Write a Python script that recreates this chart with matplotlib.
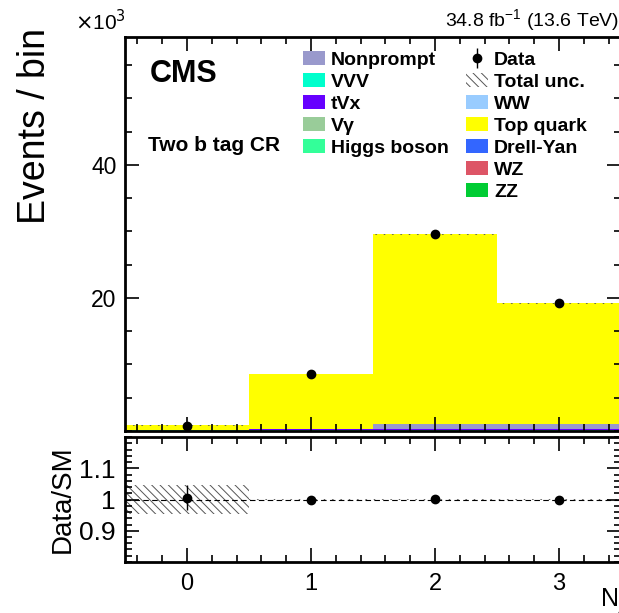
import numpy as np
import matplotlib
matplotlib.use('Agg')
import matplotlib.pyplot as plt
from matplotlib.patches import Patch
from matplotlib.ticker import MultipleLocator, FixedLocator

plt.rcParams['font.family'] = ['Liberation Sans', 'DejaVu Sans']
plt.rcParams['hatch.linewidth'] = 0.7

# 数据 (单位: 10^3 事件)
bins = [0, 1, 2, 3]
edges = [-0.5, 0.5, 1.5, 2.5, 3.5]
zz = [0.01, 0.01, 0.01, 0.01]
wz = [0.01, 0.01, 0.01, 0.01]
drell_yan = [0.01, 0.01, 0.01, 0.01]
ww = [0.01, 0.01, 0.01, 0.01]
higgs = [0.12, 0.15, 0.15, 0.15]
vgamma = [0.01, 0.01, 0.01, 0.01]
tvx = [0.02, 0.03, 0.04, 0.03]
vvv = [0.01, 0.01, 0.01, 0.01]
nonprompt = [0.02, 0.05, 0.80, 0.75]
top_quark = [0.62, 8.30, 28.50, 18.20]
data = [0.80, 8.57, 29.65, 19.25]
unc_ratio = [0.045, 0.003, 0.003, 0.003]
data_ratio = [1.005, 0.998, 1.002, 1.000]
data_ratio_err = [0.04, 0.011, 0.006, 0.007]

stack = [
    ('ZZ', zz, '#00CC33'),
    ('WZ', wz, '#DD5566'),
    ('Drell-Yan', drell_yan, '#3366FF'),
    ('WW', ww, '#99CCFF'),
    ('Higgs boson', higgs, '#33FF99'),
    ('Vγ', vgamma, '#99CC99'),
    ('tVx', tvx, '#6600FF'),
    ('VVV', vvv, '#00FFCC'),
    ('Nonprompt', nonprompt, '#9999CC'),
    ('Top quark', top_quark, '#FFFF00'),
]
colors = {name: c for name, _, c in stack}

fig = plt.figure(figsize=(6.19, 6.13), dpi=100)
ax = fig.add_axes([0.2019, 0.2969, 0.8013, 0.6427])
axr = fig.add_axes([0.2019, 0.0832, 0.8013, 0.2039])

# 堆叠直方图
bottom = np.zeros(len(bins))
for name, vals, c in stack:
    vals = np.array(vals)
    ax.bar(bins, vals, width=1.0, bottom=bottom, color=c, linewidth=0)
    bottom += vals
total = bottom

# 总不确定度
unc_abs = total * np.array(unc_ratio)
ax.fill_between(edges, np.append(total - unc_abs, total[-1] - unc_abs[-1]),
                np.append(total + unc_abs, total[-1] + unc_abs[-1]),
                step='post', facecolor='none', edgecolor='#555555', hatch='\\\\\\\\', linewidth=0)
ax.errorbar(bins, data, yerr=np.sqrt(np.array(data) / 1000.0), fmt='o', color='black',
            markersize=6, elinewidth=1, capsize=0)

ax.set_xlim(-0.5, 3.5)
ax.set_ylim(0, 59.2)
ax.yaxis.set_major_locator(FixedLocator([20, 40]))
ax.yaxis.set_minor_locator(MultipleLocator(5))
ax.xaxis.set_major_locator(MultipleLocator(1))
ax.xaxis.set_minor_locator(MultipleLocator(0.2))
ax.tick_params(axis='x', labelbottom=False)
for a in (ax, axr):
    a.tick_params(which='both', direction='in', top=True, right=True, width=1.2)
    a.tick_params(which='major', length=10)
    a.tick_params(which='minor', length=5)
    a.tick_params(labelsize=17)
    for s in a.spines.values():
        s.set_linewidth(2)
ax.tick_params(axis='y', labelsize=16.5, pad=6)
ax.set_ylabel('Events / bin', fontsize=27, loc='top')
ax.yaxis.set_label_coords(-0.145, 1.023)

fig.text(0.121, 0.951, r'$\times$10$^3$', fontsize=15, ha='left', va='baseline')
fig.text(1.0, 0.955, r'34.8 fb$^{\mathregular{-1}}$ (13.6 TeV)', fontsize=14, ha='right', va='baseline')
ax.text(0.05, 0.905, 'CMS', transform=ax.transAxes, fontsize=22, fontweight='bold', va='center')
ax.text(0.046, 0.725, 'Two b tag CR', transform=ax.transAxes, fontsize=15, fontweight='bold', va='center')

# 图例
leg_kw = dict(loc='upper left', frameon=False, prop={'weight': 'bold', 'size': 14},
              handlelength=1.15, handleheight=0.75, labelspacing=0.21,
              handletextpad=0.3, borderaxespad=0.15)
l1 = ['Nonprompt', 'VVV', 'tVx', 'Vγ', 'Higgs boson']
h1 = [Patch(facecolor=colors[n], edgecolor='none') for n in l1]
leg1 = ax.legend(h1, l1, bbox_to_anchor=(0.337, 0.992), **leg_kw)
ax.add_artist(leg1)
data_handle = ax.errorbar([], [], yerr=[], fmt='o', color='black', markersize=6,
                          elinewidth=1, capsize=0)
h2 = [data_handle,
      Patch(facecolor='none', edgecolor='#555555', hatch='\\\\\\\\', linewidth=0)]
h2 += [Patch(facecolor=colors[n], edgecolor='none') for n in ['WW', 'Top quark', 'Drell-Yan', 'WZ', 'ZZ']]
l2 = ['Data', 'Total unc.', 'WW', 'Top quark', 'Drell-Yan', 'WZ', 'ZZ']
ax.legend(h2, l2, bbox_to_anchor=(0.666, 0.992), **leg_kw)

# 比值图
ur = np.array(unc_ratio)
axr.fill_between(edges, np.append(1 - ur, 1 - ur[-1]), np.append(1 + ur, 1 + ur[-1]),
                 step='post', facecolor='none', edgecolor='#555555', hatch='\\\\\\\\', linewidth=0)
axr.axhline(1.0, color='black', linestyle='--', linewidth=0.8, dashes=(5, 3))
axr.errorbar(bins, data_ratio, yerr=data_ratio_err, fmt='o', color='black',
             markersize=6, elinewidth=1, capsize=0)
axr.set_xlim(-0.5, 3.5)
axr.set_ylim(0.8, 1.2)
axr.yaxis.set_major_locator(FixedLocator([0.9, 1.0, 1.1]))
axr.yaxis.set_minor_locator(MultipleLocator(0.02))
axr.xaxis.set_major_locator(MultipleLocator(1))
axr.xaxis.set_minor_locator(MultipleLocator(0.2))
axr.set_yticklabels(['0.9', '1', '1.1'])
axr.tick_params(axis='y', labelsize=19, pad=7)
axr.tick_params(axis='x', pad=8)
axr.set_ylabel('Data/SM', fontsize=20)
axr.yaxis.set_label_coords(-0.10, 0.5)
fig.text(0.969, 0.012, r'N$_{\mathregular{jet}}$', fontsize=18, ha='left', va='baseline')

fig.savefig('out.png', dpi=100)
